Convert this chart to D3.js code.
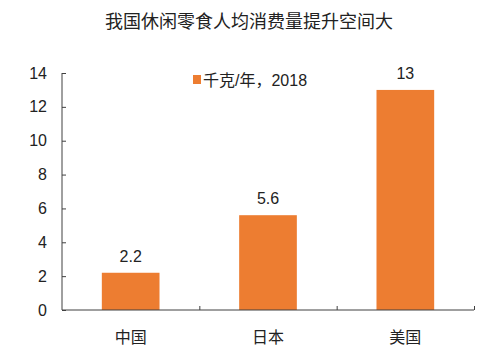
<!DOCTYPE html>
<html>
<head>
<meta charset="utf-8">
<script src="https://cdn.jsdelivr.net/npm/d3@7"></script>
<style>
  body { margin: 0; background: #fff; }
  text { font-family: "Liberation Sans", Arial, "Noto Sans CJK SC", sans-serif; fill: #222; }
</style>
</head>
<body>
<script>
// Chart data
var categories = ["中国", "日本", "美国"];
var values = [2.2, 5.6, 13];
var yTicks = [0, 2, 4, 6, 8, 10, 12, 14];
var seriesName = "千克/年，2018";
var title = "我国休闲零食人均消费量提升空间大";

var svgWidth = 499;
var svgHeight = 364;

var chartMargin = { top: 73, right: 25, bottom: 54, left: 62 };
var chartWidth = svgWidth - chartMargin.left - chartMargin.right;
var chartHeight = svgHeight - chartMargin.top - chartMargin.bottom;

var orange = "#ED7D31";
var axisColor = "#404040";

var svg = d3.select("body")
  .append("svg")
  .attr("width", svgWidth)
  .attr("height", svgHeight);

// Title
svg.append("text")
  .attr("x", 249)
  .attr("y", 28)
  .attr("text-anchor", "middle")
  .style("font-family", "'Noto Sans CJK SC', sans-serif")
  .style("font-size", "18px")
  .text(title);

var chartGroup = svg.append("g")
  .attr("transform", `translate(${chartMargin.left}, ${chartMargin.top})`);

var xScale = d3.scaleBand()
  .domain(categories)
  .range([0, chartWidth])
  .paddingInner(0.58)
  .paddingOuter(0.29);

var yScale = d3.scaleLinear()
  .domain([0, 14])
  .range([chartHeight, 0]);

// Bars
chartGroup.selectAll(".bar")
  .data(values)
  .enter()
  .append("rect")
  .attr("class", "bar")
  .attr("x", (d, i) => xScale(categories[i]))
  .attr("y", d => yScale(d))
  .attr("width", xScale.bandwidth())
  .attr("height", d => chartHeight - yScale(d))
  .attr("fill", orange);

// Value labels
chartGroup.selectAll(".val")
  .data(values)
  .enter()
  .append("text")
  .attr("class", "val")
  .attr("x", (d, i) => xScale(categories[i]) + xScale.bandwidth() / 2)
  .attr("y", d => yScale(d) - 11)
  .attr("text-anchor", "middle")
  .style("font-size", "16px")
  .text(d => d);

// Y axis
var yAxis = d3.axisLeft(yScale).tickValues(yTicks).tickSize(-4).tickPadding(15);
var yG = chartGroup.append("g").call(yAxis);
yG.select(".domain").attr("stroke", axisColor).attr("d", `M0,0V${chartHeight}`);
yG.selectAll(".tick line").attr("stroke", axisColor);
yG.selectAll(".tick text")
  .style("font-family", "'Liberation Sans', Arial, sans-serif")
  .style("font-size", "16px").attr("fill", "#222");

// X axis
var xG = chartGroup.append("g")
  .attr("transform", `translate(0, ${chartHeight})`);
xG.append("line")
  .attr("x1", 0).attr("x2", chartWidth)
  .attr("stroke", axisColor);
var step = xScale.step();
xG.selectAll(".xtick")
  .data(categories)
  .enter()
  .append("line")
  .attr("class", "xtick")
  .attr("x1", (d, i) => xScale(d) + xScale.bandwidth() + step * 0.29 + 0.5)
  .attr("x2", (d, i) => xScale(d) + xScale.bandwidth() + step * 0.29 + 0.5)
  .attr("y1", 0).attr("y2", -4)
  .attr("stroke", axisColor);
xG.selectAll(".xlabel")
  .data(categories)
  .enter()
  .append("text")
  .attr("class", "xlabel")
  .attr("x", d => xScale(d) + xScale.bandwidth() / 2)
  .attr("y", 33)
  .attr("text-anchor", "middle")
  .style("font-family", "'Noto Sans CJK SC', sans-serif")
  .style("font-size", "16px")
  .text(d => d);

// Legend
var legend = svg.append("g").attr("transform", "translate(193, 75)");
legend.append("rect")
  .attr("width", 8).attr("height", 9)
  .attr("fill", orange);
legend.append("text")
  .attr("x", 10)
  .attr("y", 11)
  .style("font-family", "'Liberation Sans', 'Noto Sans CJK SC', sans-serif")
  .style("font-size", "16px")
  .text(seriesName);
</script>
</body>
</html>
